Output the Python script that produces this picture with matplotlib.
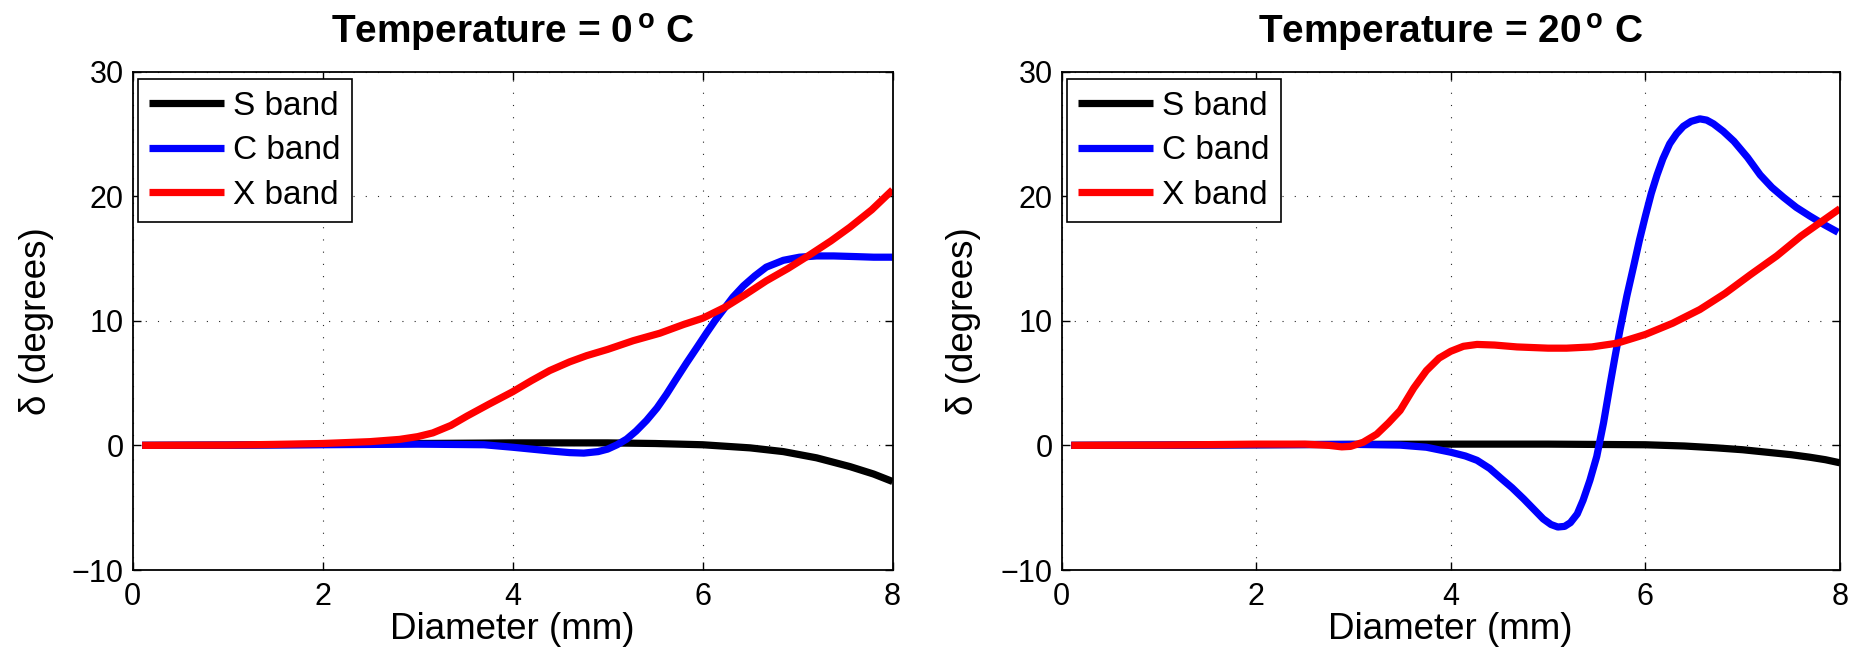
import matplotlib
matplotlib.use("Agg")
import matplotlib.pyplot as plt

plt.rcParams['font.family'] = ['Liberation Sans', 'DejaVu Sans']
plt.rcParams['mathtext.fontset'] = 'custom'
plt.rcParams['mathtext.rm'] = 'Liberation Sans'
plt.rcParams['mathtext.bf'] = 'Liberation Sans:bold'

# ---- Temperature = 0 deg C ----
s0_x = [0.1, 1, 2, 3, 4, 5, 5.5, 6, 6.5, 6.85, 7.2, 7.55, 7.8, 8.0]
s0_y = [0, 0.02, 0.08, 0.15, 0.2, 0.2, 0.15, 0.05, -0.2, -0.5, -1.0, -1.7, -2.3, -2.9]

c0_x = [0.1, 1, 2, 3, 3.7, 4.0, 4.2, 4.4, 4.6, 4.75, 4.9, 5.0, 5.1, 5.2, 5.3,
        5.41, 5.52, 5.62, 5.72, 5.83, 5.94, 6.04, 6.13, 6.22, 6.32, 6.43, 6.55,
        6.67, 6.85, 7.02, 7.2, 7.38, 7.6, 7.8, 8.0]
c0_y = [0, 0.02, 0.05, 0.1, 0.05, -0.15, -0.3, -0.45, -0.58, -0.62, -0.5, -0.3,
        0.05, 0.5, 1.15, 2.0, 3.0, 4.1, 5.3, 6.6, 7.85, 9.0, 10.0, 10.9, 11.9,
        12.8, 13.6, 14.3, 14.85, 15.1, 15.2, 15.2, 15.15, 15.1, 15.1]

r0_x = [0.1, 1, 1.5, 2, 2.5, 2.81, 3.0, 3.16, 3.35, 3.52, 3.75, 4.0, 4.2, 4.39,
        4.6, 4.78, 5.0, 5.27, 5.55, 5.8, 6.0, 6.24, 6.45, 6.67, 6.9, 7.13, 7.35,
        7.55, 7.78, 8.0]
r0_y = [0, 0.02, 0.08, 0.15, 0.3, 0.48, 0.7, 1.0, 1.6, 2.35, 3.3, 4.3, 5.2, 6.0,
        6.7, 7.2, 7.7, 8.4, 9.0, 9.7, 10.2, 11.1, 12.1, 13.2, 14.2, 15.3, 16.4,
        17.5, 18.9, 20.5]

# ---- Temperature = 20 deg C ----
s20_x = [0.1, 1, 2, 3, 4, 5, 6, 6.4, 6.73, 7.0, 7.25, 7.5, 7.69, 7.85, 8.0]
s20_y = [0, 0.02, 0.05, 0.08, 0.1, 0.1, 0.05, -0.05, -0.2, -0.35, -0.55, -0.75,
         -0.95, -1.15, -1.4]

c20_x = [0.1, 1, 2, 3, 3.48, 3.75, 4.0, 4.15, 4.27, 4.4, 4.51, 4.63, 4.75, 4.85,
         4.95, 5.03, 5.1, 5.17, 5.23, 5.3, 5.36, 5.43, 5.5, 5.57, 5.64, 5.69,
         5.74, 5.81, 5.88, 5.94, 6.0, 6.06, 6.12, 6.18, 6.25, 6.32, 6.39, 6.47,
         6.56, 6.63, 6.7, 6.8, 6.91, 7.05, 7.18, 7.3, 7.42, 7.55, 7.69, 7.84, 7.98]
c20_y = [0, 0.02, 0.05, 0.08, 0.02, -0.15, -0.55, -0.85, -1.2, -1.85, -2.6, -3.4,
         -4.3, -5.1, -5.9, -6.35, -6.55, -6.5, -6.2, -5.5, -4.4, -2.8, -0.9, 1.8,
         5.0, 7.2, 9.3, 12.0, 14.4, 16.5, 18.4, 20.2, 21.7, 23.0, 24.2, 25.0,
         25.6, 26.0, 26.2, 26.1, 25.8, 25.2, 24.4, 23.1, 21.7, 20.7, 19.9, 19.1,
         18.4, 17.7, 17.1]

r20_x = [0.1, 1, 2, 2.5, 2.75, 2.88, 2.97, 3.1, 3.24, 3.36, 3.48, 3.62, 3.75,
         3.88, 4.0, 4.13, 4.27, 4.45, 4.68, 5.0, 5.19, 5.45, 5.71, 6.0, 6.28,
         6.56, 6.82, 7.08, 7.35, 7.6, 7.8, 8.0]
r20_y = [0, 0.02, 0.1, 0.1, 0.0, -0.12, -0.08, 0.25, 0.9, 1.8, 2.8, 4.6, 6.0,
         7.0, 7.55, 7.95, 8.1, 8.05, 7.9, 7.8, 7.8, 7.9, 8.2, 8.9, 9.8, 10.9,
         12.2, 13.7, 15.2, 16.8, 17.9, 19.0]

band_labels = ['S band', 'C band', 'X band']
band_colors = ['#000000', '#0000ff', '#ff0000']
temperatures = [0, 20]
x_ticks = [0, 2, 4, 6, 8]
y_ticks = [-10, 0, 10, 20, 30]

panels = [
    [(s0_x, s0_y), (c0_x, c0_y), (r0_x, r0_y)],
    [(s20_x, s20_y), (c20_x, c20_y), (r20_x, r20_y)],
]

W, H = 1861, 653
fig = plt.figure(figsize=(W / 100, H / 100), dpi=100)
fig.patch.set_facecolor('white')

top_px, bot_px = 71.5, 570.0
axes_px = [(132.6, 760.0), (1061.5, 778.5)]

for (left_px, width_px), temp, series in zip(axes_px, temperatures, panels):
    ax = fig.add_axes([left_px / W, (H - bot_px) / H, width_px / W,
                       (bot_px - top_px) / H])
    for (xs, ys), lab, col in zip(series, band_labels, band_colors):
        ax.plot(xs, ys, color=col, lw=5.2, label=lab,
                solid_joinstyle='round', solid_capstyle='butt')
    ax.set_xlim(0, 8)
    ax.set_ylim(-10, 30)
    ax.set_xticks(x_ticks)
    ax.set_yticks(y_ticks)
    ax.set_axisbelow(True)
    ax.grid(True, color='black', linestyle=(0, (1, 10)), lw=0.8, alpha=0.85)
    ax.tick_params(direction='in', length=5.5, width=1.0, top=True, right=True,
                   labelsize=22, colors='black')
    ax.tick_params(axis='x', pad=8.5)
    ax.tick_params(axis='y', pad=6.5)
    for sp in ax.spines.values():
        sp.set_linewidth(1.3)
        sp.set_color('black')

    ax.set_xlabel('Diameter (mm)', fontsize=26.5)
    ax.set_ylabel('δ (degrees)', fontsize=26.5)
    ax.yaxis.set_label_coords(-0.1035, 0.5)
    ax.xaxis.set_label_coords(0.5, -0.085)
    ax.xaxis.label.set_verticalalignment('top')

    ax.set_title(r'Temperature = %d$^{\,\mathbf{o}}$ C' % temp, fontsize=28,
                 fontweight='bold', pad=20)

    leg = ax.legend(loc='upper left', bbox_to_anchor=(0.0065, 0.984),
                    borderaxespad=0, fontsize=24, handlelength=2.25,
                    handletextpad=0.25, borderpad=0.35, labelspacing=0.4,
                    fancybox=False, framealpha=1, edgecolor='black')
    leg.get_frame().set_linewidth(1.2)

fig.savefig('out.png', dpi=100, facecolor='white')
